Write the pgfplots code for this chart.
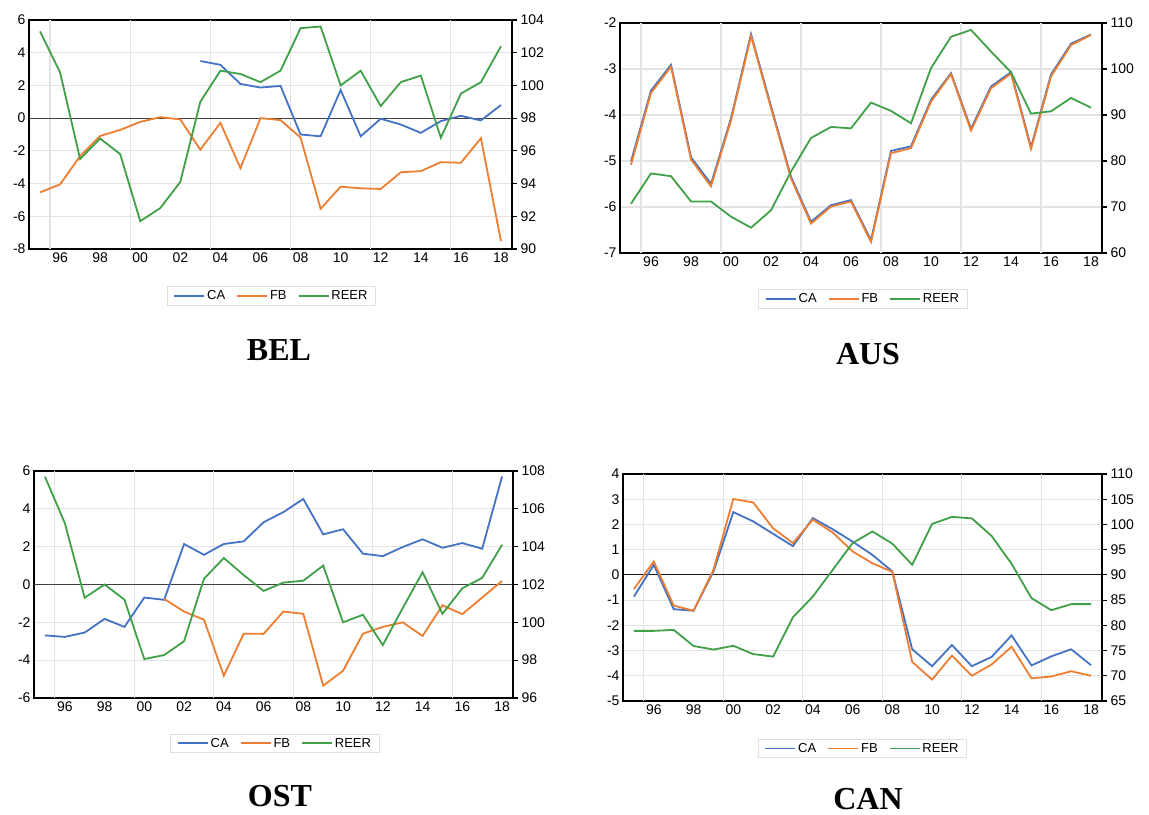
\documentclass[border=0pt]{standalone}
\usepackage{fontspec}
\setmainfont{Liberation Sans}
\newfontfamily\titlefont{Liberation Serif}
\usepackage{pgfplots}
\usepackage{pgfplotstable}
\pgfplotsset{compat=1.18}
\definecolor{cablue}{RGB}{68,114,196}
\definecolor{fborange}{RGB}{237,125,49}
\definecolor{reergreen}{RGB}{64,160,72}

\pgfplotstableread{
year CA FB REER
1995 nan -4.54 103.3
1996 nan -4.05 100.8
1997 nan -2.32 95.5
1998 nan -1.09 96.75
1999 nan -0.72 95.8
2000 nan -0.23 91.7
2001 nan 0.06 92.5
2002 nan -0.08 94.1
2003 3.49 -1.93 99.0
2004 3.26 -0.29 100.9
2005 2.09 -3.06 100.7
2006 1.87 0.00 100.2
2007 1.97 -0.12 100.9
2008 -1.00 -1.19 103.5
2009 -1.11 -5.54 103.6
2010 1.72 -4.19 100.0
2011 -1.11 -4.29 100.9
2012 -0.04 -4.33 98.74
2013 -0.39 -3.31 100.2
2014 -0.90 -3.24 100.6
2015 -0.18 -2.69 96.8
2016 0.14 -2.73 99.5
2017 -0.14 -1.23 100.2
2018 0.80 -7.52 102.4
}\bel

\pgfplotstableread{
year CA FB REER
1995 -5.01 -5.08 70.7
1996 -3.47 -3.52 77.3
1997 -2.91 -2.95 76.7
1998 -4.92 -4.97 71.2
1999 -5.50 -5.55 71.2
2000 -4.07 -4.12 67.9
2001 -2.24 -2.28 65.5
2002 -3.81 -3.85 69.3
2003 -5.34 -5.38 77.7
2004 -6.32 -6.36 85.0
2005 -5.96 -5.99 87.4
2006 -5.85 -5.88 87.1
2007 -6.72 -6.76 92.7
2008 -4.78 -4.83 90.9
2009 -4.68 -4.72 88.2
2010 -3.67 -3.71 100.2
2011 -3.09 -3.11 107.0
2012 -4.30 -4.34 108.5
2013 -3.38 -3.42 103.8
2014 -3.07 -3.10 99.3
2015 -4.70 -4.74 90.3
2016 -3.12 -3.16 90.8
2017 -2.45 -2.48 93.7
2018 -2.25 -2.26 91.6
}\aus

\pgfplotstableread{
year CA FB REER
1995 -2.69 nan 107.7
1996 -2.77 nan 105.25
1997 -2.54 nan 101.3
1998 -1.82 nan 102.0
1999 -2.24 nan 101.2
2000 -0.69 nan 98.06
2001 -0.81 -0.76 98.27
2002 2.14 -1.43 99.0
2003 1.57 -1.86 102.3
2004 2.14 -4.82 103.4
2005 2.28 -2.60 102.5
2006 3.29 -2.61 101.66
2007 3.83 -1.43 102.1
2008 4.52 -1.55 102.2
2009 2.65 -5.35 103.0
2010 2.92 -4.56 100.0
2011 1.63 -2.60 100.4
2012 1.50 -2.24 98.8
2013 1.98 -2.00 100.75
2014 2.39 -2.72 102.65
2015 1.94 -1.10 100.45
2016 2.19 -1.57 101.8
2017 1.89 -0.69 102.35
2018 5.71 0.19 104.1
}\ost

\pgfplotstableread{
year CA FB REER
1995 -0.86 -0.56 78.9
1996 0.40 0.53 78.9
1997 -1.36 -1.22 79.1
1998 -1.42 -1.42 75.9
1999 0.13 0.20 75.2
2000 2.49 3.01 75.95
2001 2.12 2.87 74.3
2002 1.63 1.85 73.8
2003 1.14 1.26 81.6
2004 2.25 2.19 85.7
2005 1.81 1.68 91.0
2006 1.32 0.93 96.3
2007 0.79 0.46 98.6
2008 0.14 0.12 96.2
2009 -2.95 -3.45 92.0
2010 -3.62 -4.15 100.1
2011 -2.78 -3.20 101.5
2012 -3.62 -4.00 101.2
2013 -3.25 -3.55 97.7
2014 -2.40 -2.85 92.2
2015 -3.59 -4.10 85.4
2016 -3.23 -4.03 83.0
2017 -2.95 -3.82 84.2
2018 -3.58 -4.00 84.2
}\can

\pgfplotsset{
  lw/.style={line width=1.8bp},
  base/.style={
    scale only axis, xmin=1994.45, xmax=2018.55,
    axis line style={line width=2bp, black},
    tick label style={font=\fontsize{14bp}{16bp}\selectfont, black},
    every tick/.style={black, line width=1.2bp},
    /pgf/number format/assume math mode=true,
  },
  leftax/.style={
    base,
    xtick={1996,1998,...,2018},
    xticklabels={96,98,00,02,04,06,08,10,12,14,16,18},
    major tick length=0pt,
    ymajorgrids,
    major grid style={line width=1.2bp, black!11},
    extra x ticks={1995.5,1999.5,2003.5,2007.5,2011.5,2015.5},
    extra x tick labels={,,,,,},
    extra x tick style={grid=major, major tick length=0pt},
    legend columns=3,
    legend image code/.code={\draw[##1, line width=1.8bp] (0bp,0bp) -- (30bp,0bp);},
    legend style={anchor=center, draw=black!12, line width=0.8bp,
      font=\fontsize{13bp}{15bp}\selectfont,
      inner xsep=6bp, inner ysep=2bp,
      /tikz/every even column/.append style={column sep=9bp}},
  },
  rightax/.style={
    base, axis x line=none, axis y line*=right,
    tick align=outside, major tick length=5bp,
  },
}

\begin{document}
\begin{tikzpicture}
\path[use as bounding box] (0bp,0bp) rectangle (1149bp,815bp);

% ---------------- BEL ----------------
\begin{axis}[leftax, at={(29bp,566bp)}, anchor=south west, width=483bp, height=229bp,
  ymin=-8, ymax=6, ytick={-8,-6,...,6}, yticklabels={-8,-6,-4,-2,0,2,4,6},
  legend style={at={(0.502,-0.205)}}]
\addplot[black!75, line width=1bp, forget plot] coordinates {(1994,0) (2019,0)};
\addplot[cablue, lw] table[x=year,y=CA]{\bel};
\addplot[fborange, lw] table[x=year,y=FB]{\bel};
\addlegendimage{reergreen, lw}
\legend{CA,FB,REER}
\end{axis}
\begin{axis}[rightax, at={(29bp,566bp)}, anchor=south west, width=483bp, height=229bp,
  ymin=90, ymax=104, ytick={90,92,...,104}]
\addplot[reergreen, lw] table[x=year,y=REER]{\bel};
\end{axis}
\node[font=\titlefont\bfseries\fontsize{32bp}{36bp}\selectfont] at (279bp,465bp) {BEL};

% ---------------- AUS ----------------
\begin{axis}[leftax, at={(620bp,562bp)}, anchor=south west, width=482bp, height=230bp,
  ymin=-7, ymax=-2, ytick={-7,-6,...,-2}, yticklabels={-7,-6,-5,-4,-3,-2},
  legend style={at={(0.504,-0.2)}}]
\addplot[cablue, lw] table[x=year,y=CA]{\aus};
\addplot[fborange, lw] table[x=year,y=FB]{\aus};
\addlegendimage{reergreen, lw}
\legend{CA,FB,REER}
\end{axis}
\begin{axis}[rightax, at={(620bp,562bp)}, anchor=south west, width=482bp, height=230bp,
  ymin=60, ymax=110, ytick={60,70,...,110}]
\addplot[reergreen, lw] table[x=year,y=REER]{\aus};
\end{axis}
\node[font=\titlefont\bfseries\fontsize{32bp}{36bp}\selectfont] at (868bp,461bp) {AUS};

% ---------------- OST ----------------
\begin{axis}[leftax, at={(34bp,117bp)}, anchor=south west, width=479bp, height=227bp,
  ymin=-6, ymax=6, ytick={-6,-4,...,6}, yticklabels={-6,-4,-2,0,2,4,6},
  legend style={at={(0.503,-0.2)}}]
\addplot[black!75, line width=1bp, forget plot] coordinates {(1994,0) (2019,0)};
\addplot[cablue, lw] table[x=year,y=CA]{\ost};
\addplot[fborange, lw] table[x=year,y=FB]{\ost};
\addlegendimage{reergreen, lw}
\legend{CA,FB,REER}
\end{axis}
\begin{axis}[rightax, at={(34bp,117bp)}, anchor=south west, width=479bp, height=227bp,
  ymin=96, ymax=108, ytick={96,98,...,108}]
\addplot[reergreen, lw] table[x=year,y=REER]{\ost};
\end{axis}
\node[font=\titlefont\bfseries\fontsize{32bp}{36bp}\selectfont] at (280bp,19bp) {OST};

% ---------------- CAN ----------------
\begin{axis}[leftax, at={(623bp,114bp)}, anchor=south west, width=479bp, height=227bp,
  ymin=-5, ymax=4, ytick={-5,-4,...,4}, yticklabels={-5,-4,-3,-2,-1,0,1,2,3,4},
  legend style={at={(0.50,-0.209)}}]
\addplot[black!90, line width=1bp, forget plot] coordinates {(1994,0) (2019,0)};
\addplot[cablue, lw] table[x=year,y=CA]{\can};
\addplot[fborange, lw] table[x=year,y=FB]{\can};
\addlegendimage{reergreen, lw}
\legend{CA,FB,REER}
\end{axis}
\begin{axis}[rightax, at={(623bp,114bp)}, anchor=south west, width=479bp, height=227bp,
  ymin=65, ymax=110, ytick={65,70,...,110}]
\addplot[reergreen, lw] table[x=year,y=REER]{\can};
\end{axis}
\node[font=\titlefont\bfseries\fontsize{32bp}{36bp}\selectfont] at (868bp,16bp) {CAN};

\end{tikzpicture}
\end{document}
